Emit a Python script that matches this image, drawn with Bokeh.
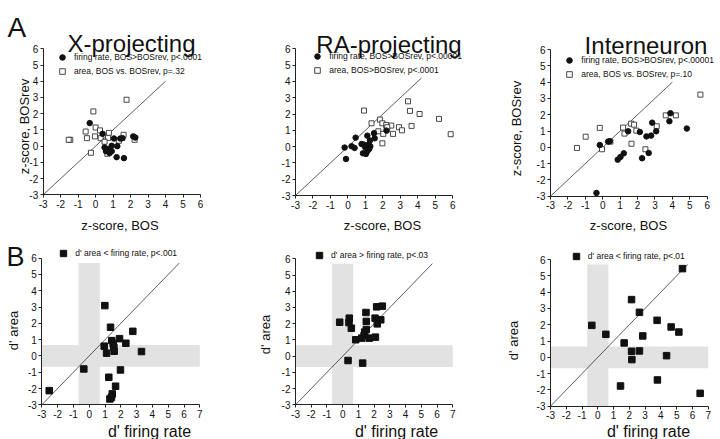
import math
from bokeh.plotting import figure
from bokeh.layouts import column, row
from bokeh.models import Label, Legend, LegendItem, FixedTicker, Range1d
from bokeh.embed import file_html
from bokeh.resources import INLINE

FONT = "Liberation Sans"

# ---------------- data ----------------
TICKS_Y = [-3, -2, -1, 0, 1, 2, 3, 4, 5, 6]
TICKS_XA = [-3, -2, -1, 0, 1, 2, 3, 4, 5, 6]
TICKS_XB = [-3, -2, -1, 0, 1, 2, 3, 4, 5, 6, 7]

TITLES = ["X-projecting", "RA-projecting", "Interneuron"]

# Row A: z-scores (x = BOS, y = BOSrev)
A1_FR_X = [-0.34, 0.40, 0.51, 0.59, 0.72, 0.80, 0.92, 0.92, 1.05, 1.24, 1.20, 1.41, 1.54, 1.62, 2.15, 2.27]
A1_FR_Y = [1.42, 0.76, -0.08, -0.31, -0.18, -0.43, -0.31, 0.02, 0.47, 0.00, -0.68, 0.47, 0.49, -0.74, 0.60, 0.53]
A1_AR_X = [1.77, -0.13, -1.45, -1.54, -0.57, -0.50, 0.00, -0.04, 0.25, 0.29, -0.27, 0.76, 0.71, 0.51, 0.67, 1.33, 1.60, 2.23]
A1_AR_Y = [2.86, 2.14, 0.39, 0.39, 0.90, 0.49, 1.15, 0.60, 0.97, 0.49, -0.41, 0.82, 0.51, 0.27, -0.47, 0.33, 0.70, 0.39]

A2_FR_X = [-0.19, -0.11, 0.21, 0.38, 0.44, 0.78, 0.86, 0.92, 0.99, 1.11, 1.18, 1.22, 1.28, 1.11, 1.26, 1.49, 1.53, 2.21, 1.03]
A2_FR_Y = [-0.06, -0.76, 0.02, -0.08, 0.55, 0.16, -0.41, 0.12, -0.04, 0.67, 0.12, -0.14, 0.02, -0.29, 0.37, 0.82, 0.51, 0.98, -0.45]
A2_AR_X = [0.92, 1.35, 1.83, 1.97, 2.19, 2.21, 2.48, 1.74, 2.02, 1.97, 2.58, 2.92, 3.09, 3.44, 3.55, 3.64, 4.10, 5.21, 5.88, 2.25]
A2_AR_Y = [2.21, 1.43, 1.66, 1.43, 1.33, 1.04, 1.29, 0.94, 0.78, 0.20, 0.78, 1.19, 1.00, 2.78, 2.19, 1.27, 2.00, 1.70, 0.76, 1.19]

A3_FR_X = [-0.36, -0.17, 0.31, 0.40, 0.86, 1.02, 1.21, 1.46, 2.13, 2.26, 2.51, 2.64, 2.78, 2.84, 3.07, 3.83, 3.89, 4.83]
A3_FR_Y = [-2.80, 0.14, 0.35, 0.37, -0.76, -0.59, -0.37, 0.98, 0.94, -0.67, 0.67, -0.35, 0.72, 1.51, 0.98, 1.60, 2.09, 1.15]
A3_AR_X = [-1.48, -0.98, -0.17, -0.04, 0.44, 1.17, 1.25, 1.63, 1.80, 1.65, 1.93, 2.45, 3.10, 3.62, 4.20, 5.61]
A3_AR_Y = [-0.04, 0.65, 1.19, -0.12, 0.35, 1.21, 0.84, 1.45, 1.39, 0.22, 1.02, -0.12, 1.29, 1.96, 1.96, 3.23]

A_LEGENDS = [
    ["firing rate, BOS>BOSrev, p<.0001", "area, BOS vs. BOSrev, p=.32"],
    ["firing rate, BOS>BOSrev, p<.00001", "area, BOS>BOSrev, p<.0001"],
    ["firing rate, BOS>BOSrev, p<.00001", "area, BOS vs. BOSrev, p=.10"],
]
A_DIAG_END = [4.0, 4.2, 4.0]

# Row B: d' (x = firing rate, y = area)
B1_X = [-2.53, -0.34, 0.99, 1.35, 0.95, 1.10, 1.43, 1.52, 1.56, 1.58, 1.92, 2.32, 2.76, 3.31, 1.98, 1.24, 1.67, 1.46, 1.41, 1.31]
B1_Y = [-2.13, -0.80, 3.09, 1.76, 0.60, 0.17, 0.94, 0.74, 0.53, 0.29, 1.06, 0.78, 1.51, 0.27, -0.86, -1.31, -1.86, -2.33, -2.54, -2.64]
B2_X = [-0.19, 0.42, 0.40, 0.55, 0.83, 0.34, 1.27, 1.48, 1.50, 1.50, 1.40, 1.36, 1.21, 1.69, 2.08, 2.16, 2.52, 2.06, 2.42, 2.20]
B2_Y = [2.09, 2.34, 2.07, 1.72, 1.01, -0.27, -0.43, 2.69, 2.14, 1.64, 1.48, 1.27, 1.11, 1.11, 1.17, 3.04, 3.08, 2.34, 2.24, 1.99]
B3_X = [-0.38, 0.51, 1.67, 2.14, 2.14, 2.16, 2.64, 2.64, 2.85, 3.76, 3.78, 4.36, 4.65, 5.14, 5.37, 1.44, 6.49]
B3_Y = [1.96, 1.41, 0.88, 3.54, 0.37, -0.14, 2.76, 0.39, 1.31, 2.27, -1.39, 0.10, 1.86, 1.55, 5.44, -1.76, -2.21]

B_LEGENDS = ["d' area < firing rate, p<.001", "d' area > firing rate, p<.03", "d' area < firing rate, p<.01"]
B_DIAG_END = 5.7
BAND_HALF = 0.67   # non-significant d' band
BAND_TOP = 5.7

# ---------------- layout helpers ----------------
ROW_A_TOP, ROW_A_H = 0, 232
ROW_B_TOP, ROW_B_H = 232, 207
CANVAS_COLS = [(0, 248), (248, 250), (498, 222)]


class Panel:
    """Maps screenshot pixels to data coordinates for one figure whose frame fills its canvas."""

    def __init__(self, c_left, width, c_top, height, px_lo, px_hi, x_lo, x_hi, py_top, py_bot):
        self.c_left, self.width, self.c_top, self.height = c_left, width, c_top, height
        self.sx = (px_hi - px_lo) / (x_hi - x_lo)
        self.sy = (py_bot - py_top) / 9.0
        self.xa = x_lo - (px_lo - c_left) / self.sx
        self.xb = self.xa + width / self.sx
        self.yb = 6 + (py_top - c_top) / self.sy
        self.ya = self.yb - height / self.sy

    def to_data(self, px, py):
        return self.xa + (px - self.c_left) / self.sx, self.yb - (py - self.c_top) / self.sy

    def leg_loc(self, left_abs, bottom_abs):
        return (left_abs - self.c_left, self.c_top + self.height - bottom_abs)


def make_fig(pan, x_end, xticks):
    p = figure(width=pan.width, height=pan.height,
               x_range=Range1d(pan.xa, pan.xb), y_range=Range1d(pan.ya, pan.yb),
               min_border=0, toolbar_location=None, output_backend="svg", title=None,
               outline_line_color=None, background_fill_color="white", border_fill_color="white")
    p.grid.visible = False
    for ax, ticks, bnd in ((p.xaxis[0], xticks, (-3, x_end)), (p.yaxis[0], TICKS_Y, (-3, 6))):
        ax.fixed_location = -3
        ax.bounds = bnd
        ax.ticker = FixedTicker(ticks=ticks)
        ax.major_label_overrides = {tk: str(tk) for tk in ticks}
        ax.major_label_text_font = FONT
        ax.major_label_text_font_size = "10px"
        ax.major_label_text_color = "#111111"
        ax.major_tick_out = 3
        ax.major_tick_in = 0
        ax.minor_tick_out = 0
        ax.minor_tick_in = 0
        ax.major_label_standoff = 2
        ax.axis_line_color = "#222222"
        ax.major_tick_line_color = "#222222"
    return p


def lab(p, pan, ax, ay, text, size, align="center", baseline="alphabetic", angle=0.0):
    x, y = pan.to_data(ax, ay)
    p.add_layout(Label(x=x, y=y, text=text, text_font=FONT, text_font_size=f"{size}px",
                       text_align=align, text_baseline=baseline, angle=angle, text_color="#111111"))


def add_legend(p, items, loc, g, standoff):
    lg = Legend(items=items, location=loc, orientation="vertical", padding=0, margin=0, spacing=0,
                glyph_width=g, glyph_height=g, label_standoff=standoff, label_height=g, label_width=10,
                label_text_font=FONT, label_text_font_size="8.5px", label_text_color="#111111",
                border_line_color=None, background_fill_alpha=0)
    p.add_layout(lg)


# ---------------- row A ----------------
A_DATA = [(A1_FR_X, A1_FR_Y, A1_AR_X, A1_AR_Y),
          (A2_FR_X, A2_FR_Y, A2_AR_X, A2_AR_Y),
          (A3_FR_X, A3_FR_Y, A3_AR_X, A3_AR_Y)]
A_FRAME_PX = [(42.7, 200.0, 48.3, 194.3), (295.0, 452.3, 48.3, 195.0), (550.0, 706.7, 49.0, 195.7)]
A_LEG_BOX = [(55, 78), (310.3, 77), (562.3, 81)]
A_TITLE_POS = [(131, 43), (388.5, 43.5), (645.5, 45)]
A_XLAB_X = [119.5, 382, 628]

figs_a = []
for i in range(3):
    cl, w = CANVAS_COLS[i]
    fl, fr_, ft, fb = A_FRAME_PX[i]
    pan = Panel(cl, w, ROW_A_TOP, ROW_A_H, fl, fr_, -3, 6, ft, fb)
    p = make_fig(pan, 6, TICKS_XA)
    p.line([-3, A_DIAG_END[i]], [-3, A_DIAG_END[i]], line_color="#333333", line_width=0.8)
    fx, fy, ax_, ay_ = A_DATA[i]
    ra = p.scatter(ax_, ay_, marker="square", size=5, fill_color="white", line_color="#333333", line_width=0.9)
    rf = p.scatter(fx, fy, marker="circle", size=5.5, fill_color="#111111", line_color="#111111")
    add_legend(p, [LegendItem(label=A_LEGENDS[i][0], renderers=[rf]),
                   LegendItem(label=A_LEGENDS[i][1], renderers=[ra])],
               pan.leg_loc(*A_LEG_BOX[i]), 14, 5)
    tx, ty = A_TITLE_POS[i]
    lab(p, pan, tx, ty, TITLES[i], 24)
    lab(p, pan, A_XLAB_X[i], 224.5, "z-score, BOS", 13)
    if i == 0:
        lab(p, pan, 7, 27, "A", 28, align="left")
        lab(p, pan, 24, 126, "z-score, BOSrev", 13, baseline="middle", angle=math.pi / 2)
    if i == 2:
        lab(p, pan, 516, 128, "z-score, BOSrev", 13, baseline="middle", angle=math.pi / 2)
    figs_a.append(p)

# ---------------- row B ----------------
B_DATA = [(B1_X, B1_Y), (B2_X, B2_Y), (B3_X, B3_Y)]
B_FRAME_PX = [(41.3, 199.3, 257.7, 404.3), (295.0, 452.3, 258.3, 404.3), (550.0, 707.7, 259.0, 405.7)]
B_LEG_BOX = [(55.3, 261.3), (311, 263), (567.7, 263.7)]
B_XLAB_X = [149, 396, 648]
B_YLAB_POS = [(13, 330), (265, 334), (513, 340)]

figs_b = []
for i in range(3):
    cl, w = CANVAS_COLS[i]
    fl, fr_, ft, fb = B_FRAME_PX[i]
    pan = Panel(cl, w, ROW_B_TOP, ROW_B_H, fl, fr_, -3, 7, ft, fb)
    p = make_fig(pan, 7, TICKS_XB)
    band = dict(fill_color="#e2e2e2", line_color=None)
    p.quad(left=[-BAND_HALF], right=[BAND_HALF], bottom=[-3], top=[BAND_TOP], **band)
    p.quad(left=[-3], right=[7], bottom=[-BAND_HALF], top=[BAND_HALF], **band)
    p.line([-3, B_DIAG_END], [-3, B_DIAG_END], line_color="#333333", line_width=0.8)
    bx, by = B_DATA[i]
    rs = p.scatter(bx, by, marker="square", size=6.5, fill_color="#111111", line_color="#111111")
    add_legend(p, [LegendItem(label=B_LEGENDS[i], renderers=[rs])], pan.leg_loc(*B_LEG_BOX[i]), 16, 4)
    lab(p, pan, B_XLAB_X[i], 431, "d' firing rate", 16)
    yx, yy = B_YLAB_POS[i]
    lab(p, pan, yx, yy, "d' area", 13, baseline="middle", angle=math.pi / 2)
    if i == 0:
        lab(p, pan, 6, 256, "B", 27, align="left")
    figs_b.append(p)

layout = column(row(*figs_a, spacing=0), row(*figs_b, spacing=0), spacing=0)
open("out.html", "w").write(file_html(layout, INLINE))
